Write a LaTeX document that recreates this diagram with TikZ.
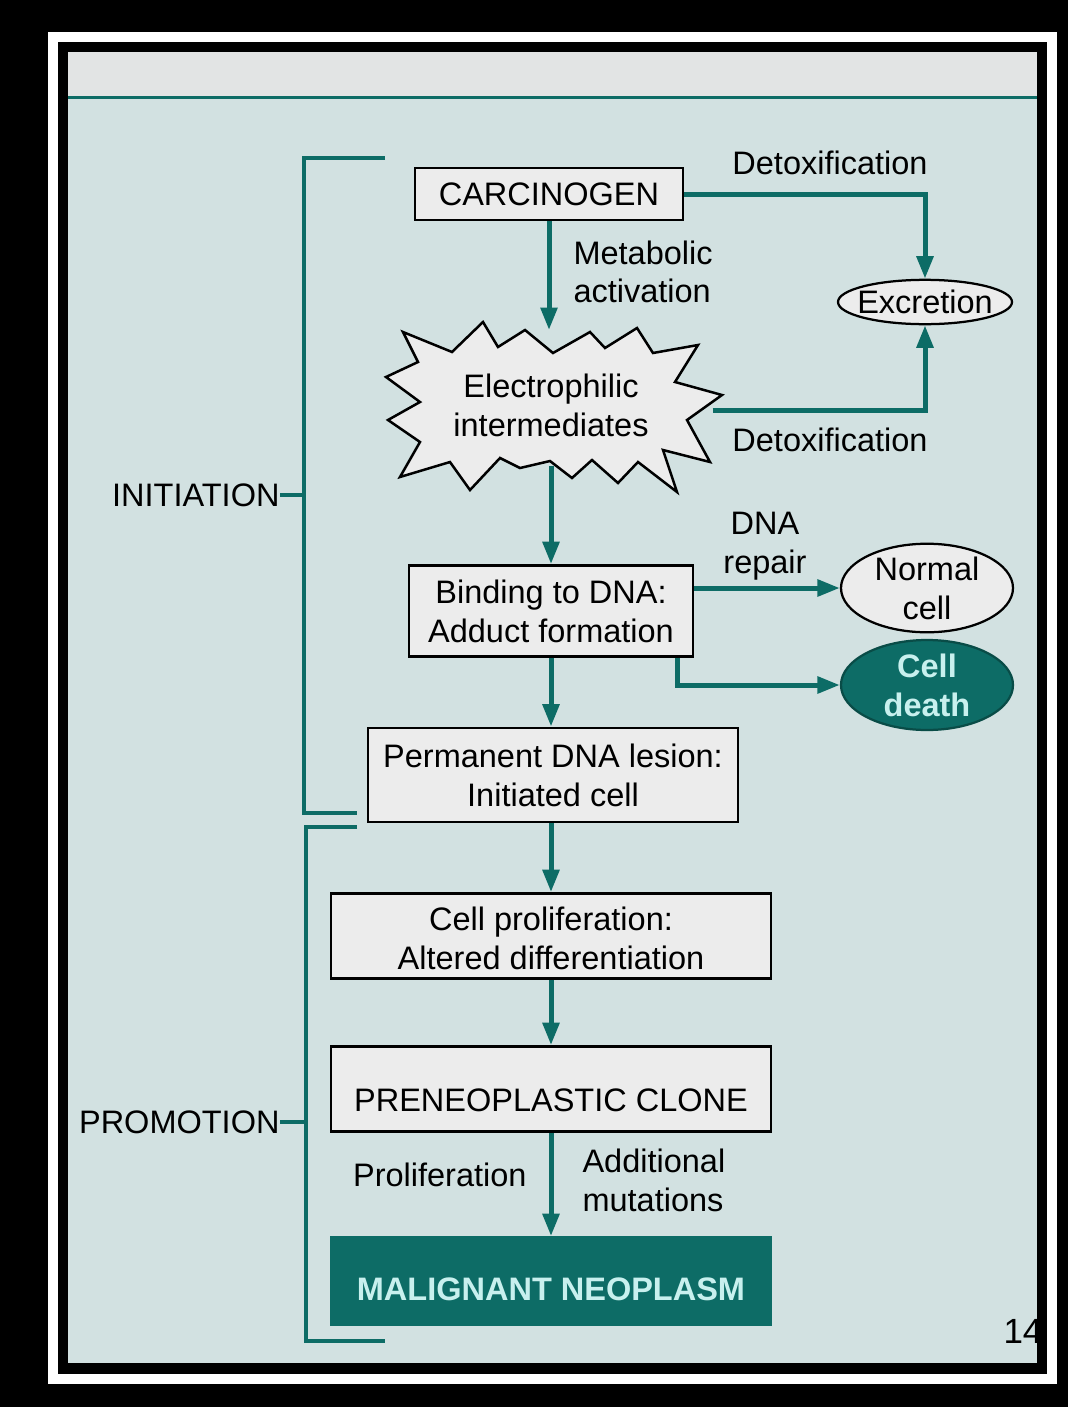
\documentclass[tikz,border=0pt]{standalone}
\usepackage{fontspec}
\setmainfont{Liberation Sans}
\usetikzlibrary{shapes.geometric,arrows.meta}

\definecolor{tealdark}{RGB}{13,108,102}
\definecolor{panelbg}{RGB}{210,225,225}
\definecolor{headbg}{RGB}{226,228,228}
\definecolor{boxfill}{RGB}{236,236,236}
\definecolor{palecyan}{RGB}{200,240,238}

\tikzset{
  stagebox/.style={draw=black, line width=1.1pt, fill=boxfill, inner sep=0pt, align=center},
  outcome/.style={ellipse, draw=black, line width=0.9pt, fill=boxfill, inner sep=0pt, align=center},
  flow/.style={draw=tealdark, line width=2pt, -{Triangle[length=9pt,width=6.5pt]}},
  bracket/.style={draw=tealdark, line width=1.6pt},
  note/.style={inner sep=0pt, align=center},
}

\begin{document}
\begin{tikzpicture}[x=0.4pt, y=-0.4pt, font=\fontsize{13}{15.5}\selectfont]
 	% frame and panel
 	\fill [black] (0,0) rectangle (1068,1407);
 	\fill [white] (48,32) rectangle (1057,1384);
 	\fill [black] (58,42) rectangle (1047,1374);
 	\fill [panelbg] (68,52) rectangle (1037,1363);
 	\fill [headbg] (68,52) rectangle (1037,97);
 	\draw [tealdark, line width=1.2pt] (68,97) -- (1037,97);
 	\useasboundingbox (0,0) rectangle (1068,1407);
 	% the burst behind the electrophilic text
 	\draw [black, line width=1pt, fill=boxfill] (403,332) -- (452,352) -- (483,322) -- (498,347) -- (525,330) -- (553,353) -- (590,332) -- (605,348) -- (637,328) -- (653,353) -- (698,345) -- (675,382) -- (722,395) -- (687,420) -- (710,462) -- (663,450) -- (677,492) -- (638,462) -- (618,483) -- (592,460) -- (572,478) -- (550,461) -- (520,468) -- (500,458) -- (470,490) -- (450,462) -- (400,477) -- (420,442) -- (388,420) -- (420,402) -- (386,377) -- (418,362) -- cycle;
 	% steps
 	\node [stagebox, minimum width=107.2pt, minimum height=20.8pt] (carc) at (549,194) {CARCINOGEN};
 	\node [note, minimum width=128.8pt, minimum height=54pt] (elec) at (551,398) {\raisebox{-4.5pt}[\height][\depth]{\begin{tabular}{@{}c@{}}Electrophilic\\intermediates\end{tabular}}};
 	\node [stagebox, minimum width=113.6pt, minimum height=36.4pt] (bind) at (551,611) {Binding to DNA:\\Adduct formation};
 	\node [stagebox, minimum width=148pt, minimum height=37.6pt] (perm) at (553,775) {Permanent DNA lesion:\\Initiated cell};
 	\node [stagebox, minimum width=176pt, minimum height=34pt] (prolif) at (551,936) {\raisebox{-2.5pt}[\height][\depth]{\begin{tabular}{@{}c@{}}Cell proliferation:\\Altered differentiation\end{tabular}}};
 	\node [stagebox, minimum width=176pt, minimum height=34pt] (preneo) at (551,1089) {\raisebox{-4.5pt}[\height][\depth]{PRENEOPLASTIC CLONE}};
 	\node [stagebox, draw=tealdark, fill=tealdark, text=palecyan, font=\fontsize{13}{15.5}\selectfont\bfseries, minimum width=176pt, minimum height=34.8pt] (malig) at (551,1281) {\raisebox{-3.5pt}[\height][\depth]{MALIGNANT NEOPLASM}};
 	% outcomes
 	\node [outcome, inner xsep=-2.5pt, inner ysep=1.5pt, minimum width=69.6pt, minimum height=17.6pt] (excr) at (925,302) {Excretion};
 	\node [outcome, minimum width=68.8pt, minimum height=32pt] (normal) at (927,588) {Normal\\cell};
 	\node [outcome, draw=tealdark!70!black, fill=tealdark, text=palecyan, font=\fontsize{13}{15.5}\selectfont\bfseries, minimum width=68.8pt, minimum height=36pt] (death) at (927,685) {Cell\\death};
 	% labels
 	\node [note] (detoxa) at (830,163) {Detoxification};
 	\node [note] (detoxb) at (830,440) {Detoxification};
 	\node [note, anchor=west, align=left] (metab) at (573,272) {Metabolic\\activation};
 	\node [note] (repair) at (765,546) {DNA\\repair};
 	\node [note, anchor=west, align=left] (mutlab) at (582,1180) {Additional\\mutations};
 	\node [note, anchor=east] (prolab) at (527,1175) {Proliferation};
 	\node [note, anchor=east] (initlab) at (280,495) {INITIATION};
 	\node [note, anchor=east] (promlab) at (280,1122) {PROMOTION};
 	% connectors
 	\draw [flow] (carc.south) -- (carc.south |- elec.north);
 	\draw [flow] (carc.east) -| (excr.north);
 	\draw [flow] ([yshift=-5pt]elec.east) -| (excr.south);
 	\draw [flow] (elec.south) -- (bind.north);
 	\draw [flow] (bind.east |- normal.west) -- (normal.west);
 	\draw [flow] ([xshift=-6.8pt]bind.south east) |- (death.west);
 	\draw [flow] (bind.south) -- (bind.south |- perm.north);
 	\draw [flow] (bind.south |- perm.south) -- (prolif.north);
 	\draw [flow] (prolif.south) -- (preneo.north);
 	\draw [flow] (preneo.south) -- (malig.north);
 	% brackets
 	\draw [bracket] (385,158) -- (304,158) -- (304,813) -- (357,813);
 	\draw [bracket] (initlab.east) -- (304,495);
 	\draw [bracket] (357,827) -- (306,827) -- (306,1341) -- (385,1341);
 	\draw [bracket] (promlab.east) -- (306,1122);
 	% slide number, cut by the frame
 	\begin{scope}
 	\clip (68,52) rectangle (1037,1363);
 	\node [note, anchor=base west, font=\fontsize{14}{16}\selectfont] (slideno) at (1003,1343) {14};
 	\end{scope}
\end{tikzpicture}
\end{document}
